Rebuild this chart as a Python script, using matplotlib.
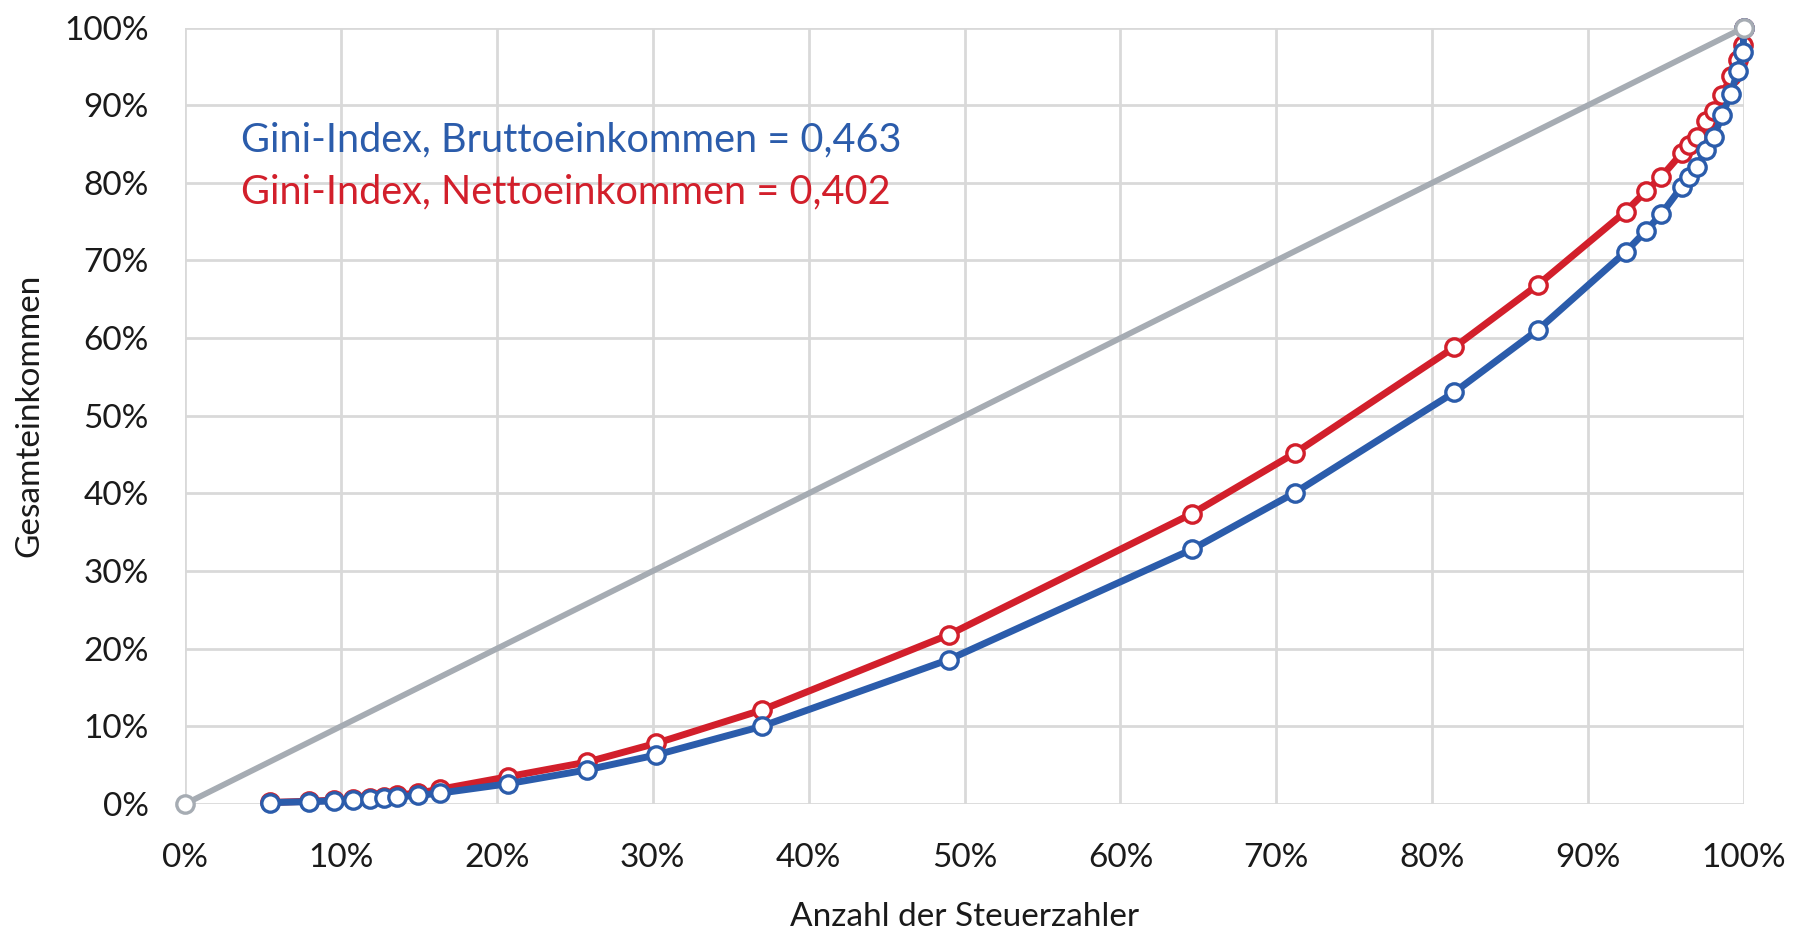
import matplotlib

matplotlib.use("Agg")
import matplotlib.pyplot as plt
from matplotlib.ticker import FuncFormatter, MultipleLocator

# Cumulative share of taxpayers (%), shared by both curves
taxpayer_share = [
    5.45, 7.97, 9.58, 10.8, 11.87, 12.78, 13.58, 14.96, 16.36, 20.7,
    25.8, 30.2, 37.0, 49.0, 64.6, 71.2, 81.4, 86.8,
    92.4, 93.7, 94.7, 96.0, 96.5, 97.0, 97.55, 98.05, 98.6, 99.15, 99.6, 99.93, 100.0,
]
# Cumulative share of gross income (%)
gross_income = [
    0.17, 0.3, 0.4, 0.5, 0.64, 0.73, 0.94, 1.1, 1.4, 2.6,
    4.4, 6.3, 10.0, 18.6, 32.8, 40.1, 53.0, 61.1,
    71.1, 73.8, 76.0, 79.5, 80.8, 82.1, 84.2, 85.9, 88.7, 91.5, 94.4, 96.9, 100.0,
]
# Cumulative share of net income (%)
net_income = [
    0.2, 0.35, 0.5, 0.65, 0.8, 0.95, 1.15, 1.4, 1.9, 3.5,
    5.4, 7.8, 12.1, 21.8, 37.4, 45.2, 58.8, 66.9,
    76.3, 78.9, 80.8, 83.8, 84.9, 85.9, 87.9, 89.2, 91.3, 93.7, 95.8, 97.8, 100.0,
]
equality_x = [0, 100]
equality_y = [0, 100]

gini_gross = "0,463"
gini_net = "0,402"

BLUE = "#2B5CAB"
RED = "#D21F2B"
GRAY = "#A6ACB3"
GRID = "#D9D9D9"
TEXT = "#1a1a1a"

plt.rcParams["font.family"] = ["Lato", "DejaVu Sans"]

fig = plt.figure(figsize=(17.93, 9.33), dpi=100)
ax = fig.add_axes([0.1032, 0.1383, 0.8695, 0.8322])

marker_kw = dict(marker="o", markersize=12.5, markerfacecolor="white",
                 markeredgewidth=2.4, clip_on=False)

ax.plot(taxpayer_share, gross_income, color=BLUE, lw=5.0,
        markeredgecolor=BLUE, zorder=3, **marker_kw)
ax.plot(taxpayer_share, net_income, color=RED, lw=5.0,
        markeredgecolor=RED, zorder=2, **marker_kw)
ax.plot(equality_x, equality_y, color=GRAY, lw=4.2,
        markeredgecolor=GRAY, zorder=4, **marker_kw)

ax.set_xlim(0, 100)
ax.set_ylim(0, 100)
ax.xaxis.set_major_locator(MultipleLocator(10))
ax.yaxis.set_major_locator(MultipleLocator(10))
pct = FuncFormatter(lambda v, _: f"{v:.0f}%")
ax.xaxis.set_major_formatter(pct)
ax.yaxis.set_major_formatter(pct)

ax.grid(True, color=GRID, lw=2.0, zorder=0)
ax.set_axisbelow(True)
for s in ax.spines.values():
    s.set_visible(False)
ax.tick_params(length=0, labelsize=24, labelcolor=TEXT)
ax.tick_params(axis="x", pad=28)
ax.tick_params(axis="y", pad=26)

ax.set_xlabel("Anzahl der Steuerzahler", fontsize=24, color=TEXT, labelpad=21)
ax.set_ylabel("Gesamteinkommen", fontsize=24, color=TEXT, labelpad=14)

ax.text(3.6, 85.5, f"Gini-Index, Bruttoeinkommen = {gini_gross}",
        color=BLUE, fontsize=28.5, va="center", ha="left")
ax.text(3.6, 78.8, f"Gini-Index, Nettoeinkommen = {gini_net}",
        color=RED, fontsize=28.5, va="center", ha="left")

fig.savefig("out.png", dpi=100)
